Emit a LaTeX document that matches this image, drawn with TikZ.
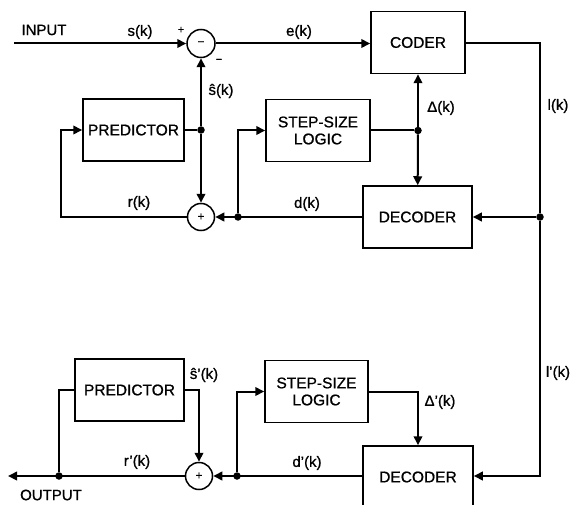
\documentclass[tikz,border=0pt]{standalone}
\usepackage{fontspec}
\setmainfont{Liberation Sans}
\newfontfamily\diagfont{Liberation Sans}[FakeBold=0.9]
\usetikzlibrary{positioning, arrows.meta, calc}

\begin{document}
\begin{tikzpicture}[x=1pt,y=-1pt]
  \tikzset{
    block/.style={draw, line width=1.5pt, minimum width=104pt, minimum height=62pt, inner sep=0pt, align=center, font=\diagfont\fontsize{15.5}{17}\selectfont},
    sumnode/.style={circle, draw, line width=1.5pt, minimum size=27pt, inner sep=0pt, font=\diagfont\fontsize{12}{12}\selectfont},
    vertex/.style={circle, fill=black, minimum size=7.5pt, inner sep=0pt},
    wire/.style={line width=2pt},
    sig/.style={wire, -{Triangle[length=9pt,width=8.5pt]}},
    lab/.style={font=\diagfont\fontsize{15}{17}\selectfont, inner sep=0pt},
    sgn/.style={font=\diagfont\fontsize{11}{11}\selectfont, inner sep=0pt}
  }
  \useasboundingbox (0,0) rectangle (572,505);

  % coder side
  \node[block, minimum width=94pt] (coder) at (418,42.5) {CODER};
  \node[block, minimum width=109pt] (dec) at (417.5,217) {DECODER};
  \node[block] (step) at (318,130.5) {STEP-SIZE\\LOGIC};
  \node[block, minimum width=101pt] (pred) at (133.5,130) {PREDICTOR};
  \node[sumnode, minimum size=28pt] (diff) at (201,43.5) {−};
  \node[sumnode] (add) at (201,217) {+};
  \node[vertex] (pdot) at (201,130) {};
  \node[vertex] (ddot) at (238,217) {};
  \node[vertex] (sdot) at (418,130.5) {};
  \node[vertex] (ldot) at (540,217) {};
  \coordinate (in) at (14,43.5);
  \coordinate (rc) at (61,217);

  \draw[sig] (in) -- (diff);
  \draw[sig] (diff) -- (coder.west |- diff);
  \draw[wire] (coder.east |- diff) -| (ldot);
  \draw[sig] (ldot) -- (dec);
  \draw[wire] (step) -- (sdot);
  \draw[sig] (sdot) -- (coder);
  \draw[sig] (sdot) -- (dec);
  \draw[sig] (dec) -- (add);
  \draw[sig] (ddot) |- (step);
  \draw[wire] (pred) -- (pdot);
  \draw[sig] (pdot) -- (diff);
  \draw[sig] (pdot) -- (add);
  \draw[sig] (add) -- (rc) |- (pred);

  \node[lab] (input) at (44,30) {INPUT};
  \node[lab] (sk) at (140,32) {s(k)};
  \node[sgn] (plus) at (181,30) {+};
  \node[sgn] (minus) at (219,61) {−};
  \node[lab] (ek) at (299,32) {e(k)};
  \node[lab] (shat) at (221,91) {ŝ(k)};
  \node[lab] (delta) at (441,108) {Δ(k)};
  \node[lab] (lk) at (558,106) {l(k)};
  \node[lab] (dk) at (307,204) {d(k)};
  \node[lab] (rk) at (139,203) {r(k)};

  % decoder side
  \node[block, minimum width=109pt] (pred2) at (129.5,390) {PREDICTOR};
  \node[block, minimum width=103pt] (step2) at (316.5,391.5) {STEP-SIZE\\LOGIC};
  \node[block, minimum width=110pt] (dec2) at (418,477) {DECODER};
  \node[sumnode] (add2) at (199,476) {+};
  \node[vertex] (odot) at (59,476) {};
  \node[vertex] (ddot2) at (237,476) {};
  \coordinate (out) at (8,476);

  \draw[sig] (ldot) |- (dec2.east |- add2);
  \draw[sig] (dec2.west |- add2) -- (add2);
  \draw[sig] (ddot2) |- (step2);
  \draw[sig] (step2) -| (dec2);
  \draw[sig] (pred2) -| (add2);
  \draw[sig] (add2) -- (out);
  \draw[wire] (odot) |- (pred2);

  \node[lab] (shat2) at (204,375) {ŝ’(k)};
  \node[lab] (rk2) at (137,462) {r’(k)};
  \node[lab] (dk2) at (307,463) {d’(k)};
  \node[lab] (delta2) at (440,402) {Δ’(k)};
  \node[lab] (lk2) at (558,373) {l’(k)};
  \node[lab] (output) at (51,495) {OUTPUT};
\end{tikzpicture}
\end{document}
